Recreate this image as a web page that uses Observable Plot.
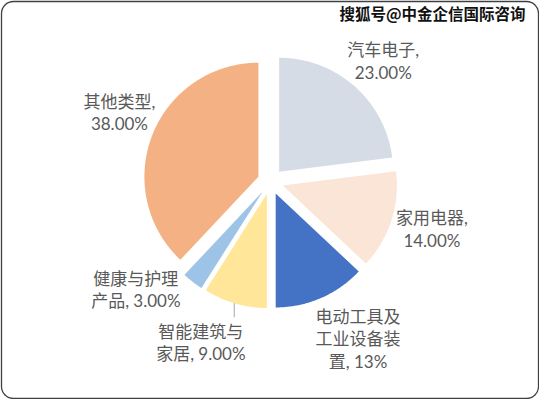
<!DOCTYPE html>
<html><head><meta charset="utf-8">
<script src="https://cdn.jsdelivr.net/npm/d3@7"></script>
<script src="https://cdn.jsdelivr.net/npm/@observablehq/plot@0.6"></script>
<style>body{margin:0;background:#fff}</style>
</head><body><div id="chart"></div>
<script>
// ---- data ----
const categories = ["汽车电子", "家用电器", "电动工具及工业设备装置", "智能建筑与家居", "健康与护理产品", "其他类型"];
const shares = [23, 14, 13, 9, 3, 38];
const labelTexts = ["汽车电子,\n23.00%", "家用电器,\n14.00%", "电动工具及\n工业设备装\n置, 13%", "智能建筑与\n家居, 9.00%", "健康与护理\n产品, 3.00%", "其他类型,\n38.00%"];
const watermark = "搜狐号@中金企信国际咨询";

// ---- style / layout ----
const colors = ["#D6DCE5", "#FBE5D6", "#4472C4", "#FFE699", "#9DC3E6", "#F4B183"];
const W = 539, H = 399, cxPx = 270, cyPx = 181, rPx = 114;
const explode = 13 / rPx;
// label block centers, in radius units relative to pie centre (y up)
const labelPos = [[0.989, 1.064], [1.416, -0.412], [0.768, -1.373], [-0.611, -1.405], [-1.181, -0.941], [-1.325, 0.611]];
const leader = [{x1: -0.318, y1: -1.067, x2: -0.318, y2: -1.19}];

// ---- geometry via d3.pie ----
const arcs = d3.pie().sort(null).startAngle(0).endAngle(2 * Math.PI)(shares);
const slicePts = [];
arcs.forEach((a, i) => {
  const mid = (a.startAngle + a.endAngle) / 2;
  const ox = explode * Math.sin(mid), oy = explode * Math.cos(mid);
  slicePts.push({cat: categories[i], x: ox, y: oy});
  const n = Math.max(8, Math.ceil((a.endAngle - a.startAngle) / 0.01));
  for (let k = 0; k <= n; k++) {
    const t = a.startAngle + (a.endAngle - a.startAngle) * k / n;
    slicePts.push({cat: categories[i], x: ox + Math.sin(t), y: oy + Math.cos(t)});
  }
});
const labels = categories.map((c, i) => ({cat: c, text: labelTexts[i], x: labelPos[i][0], y: labelPos[i][1]}));

const font = "Lato, 'Noto Sans CJK SC', sans-serif";
const chart = Plot.plot({
  width: W, height: H, margin: 0,
  x: {domain: [-cxPx / rPx, (W - cxPx) / rPx], axis: null},
  y: {domain: [-(H - cyPx) / rPx, cyPx / rPx], axis: null},
  color: {domain: categories, range: colors},
  style: {background: "white", fontFamily: font},
  marks: [
    Plot.line(slicePts, {x: "x", y: "y", z: "cat", fill: "cat", stroke: "none", curve: "linear-closed"}),
    Plot.link(leader, {x1: "x1", y1: "y1", x2: "x2", y2: "y2", stroke: "#a6a6a6", strokeWidth: 1}),
    Plot.text(labels, {x: "x", y: "y", text: "text", fill: "#595959", fontSize: 17, lineHeight: 1.32, textAnchor: "middle", fontFamily: font}),
    Plot.text([watermark], {frameAnchor: "top-right", dx: -14, dy: 8, text: d => d, fontSize: 15.5, fontWeight: "bold", fill: "#111", stroke: "white", strokeWidth: 3, fontFamily: "'Noto Sans CJK SC', sans-serif", textAnchor: "end"}),
    Plot.frame({stroke: "#404040", strokeWidth: 1.3, rx: 12, inset: 1})
  ]
});
document.getElementById("chart").appendChild(chart);
</script>
</body></html>
